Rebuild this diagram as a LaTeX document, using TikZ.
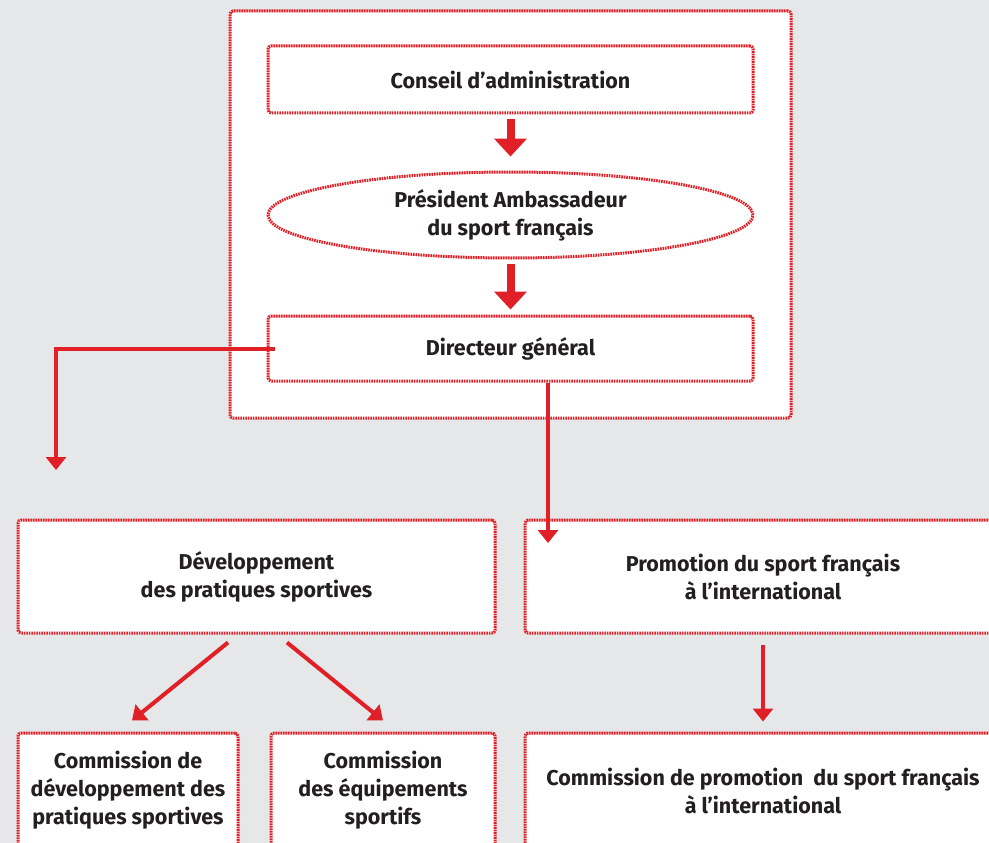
\documentclass[tikz,border=0pt]{standalone}
\usepackage{fontspec}
\setmainfont{Fira Sans}
\usepackage{tikz}
\usetikzlibrary{arrows.meta,shapes}
\definecolor{cnosred}{HTML}{E01F26}
\definecolor{cnosgray}{HTML}{E6E7E8}
\definecolor{cnostext}{HTML}{231F20}
\tikzstyle{box}=[draw=cnosred,fill=white,line width=3pt,dash pattern=on 1.6pt off 0.9pt,rounded corners=3pt,align=center,inner sep=0pt,text=cnostext,font=\bfseries\fontsize{21.5}{28}\selectfont]
\tikzstyle{bigarr}=[draw=cnosred,line width=8pt,-{Triangle[width=32pt,length=18pt]}]
\tikzstyle{arr}=[draw=cnosred,line width=4pt,-{Triangle[width=20pt,length=13pt]}]

\begin{document}
\begin{tikzpicture}[x=1pt,y=-1pt]
    \fill[cnosgray] (0,0) rectangle (989,843);
    \useasboundingbox (0,0) rectangle (989,843);
    \clip (0,0) rectangle (989,843);
    % top block
    \node[box,minimum width=561pt,minimum height=407pt] (cnos) at (510.5,214.5) {};
    \node[box,minimum width=485pt,minimum height=67pt] (conseil) at (510.5,79.5)
        {Conseil d’administration};
    \node[box,ellipse,minimum width=485pt,minimum height=86pt] (pres) at (510.5,215)
        {Président Ambassadeur\\du sport français};
    \node[box,minimum width=485pt,minimum height=65pt] (dirg) at (510.5,348.5)
        {Directeur général};
    % departments
    \node[box,minimum width=477pt,minimum height=113pt] (dev) at (256.5,576.5)
        {Développement\\des pratiques sportives};
    \node[box,minimum width=476pt,minimum height=113pt] (promo) at (763,576.5)
        {Promotion du sport français\\à l’international};
    % commissions
    \foreach \pos/\name/\boxw/\txt in {{(128,790.5)/comdev/220/Commission de\\développement des\\pratiques sportives},
    {(383,790.5)/comequip/224/Commission\\des équipements\\sportifs},
    {(763,790.5)/compromo/476/Commission de promotion\ \ du sport français\\à l’international}}
        \node[box,minimum width=\boxw pt,minimum height=115pt] (\name) at \pos {\txt};
    % connectors
    \coordinate (devtip) at (56,470);
    \coordinate (promotip) at (548,543);
    \draw[bigarr,shorten <=5pt,shorten >=14pt] (conseil) -- (pres);
    \draw[bigarr,shorten <=4pt,shorten >=5pt] (pres) -- (dirg);
    \draw[arr] ([xshift=8pt]dirg.west) -| (devtip);
    \draw[arr] (promotip |- dirg.south) -- (promotip);
    \draw[arr] ([xshift=-28.5pt,yshift=-8pt]dev.south) -- ([xshift=4pt,yshift=11pt]comdev.north);
    \draw[arr] ([xshift=30.5pt,yshift=-8pt]dev.south) -- ([yshift=11pt]comequip.north);
    \draw[arr,shorten <=10pt,shorten >=10pt] (promo) -- (compromo);
\end{tikzpicture}
\end{document}
